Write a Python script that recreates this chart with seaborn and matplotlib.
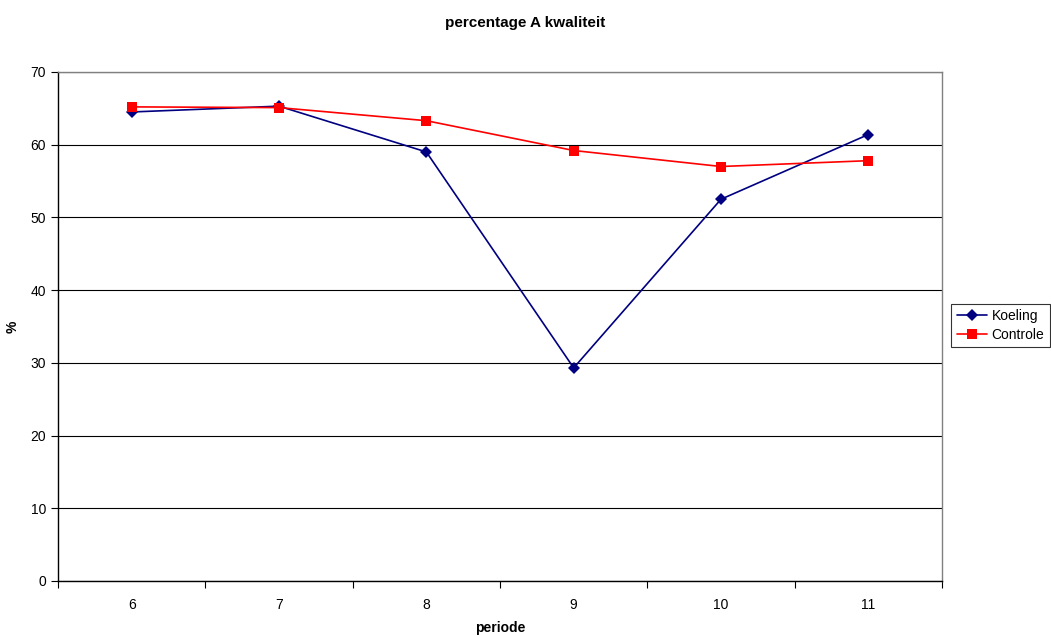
import pandas as pd
import matplotlib.pyplot as plt
import seaborn as sns
from matplotlib.ticker import FixedLocator
from matplotlib.lines import Line2D

# values
periode = [6, 7, 8, 9, 10, 11]
koeling = [64.5, 65.3, 59.0, 29.3, 52.5, 61.4]
controle = [65.2, 65.1, 63.3, 59.2, 57.0, 57.8]

df = pd.DataFrame({
    'pos': list(range(len(periode))) * 2,
    'value': koeling + controle,
    'serie': ['Koeling'] * len(periode) + ['Controle'] * len(periode),
})

sns.set_style('white')
plt.rcParams['font.family'] = ['Liberation Sans', 'DejaVu Sans']
plt.rcParams['text.color'] = 'black'
plt.rcParams['axes.labelcolor'] = 'black'
plt.rcParams['xtick.color'] = 'black'
plt.rcParams['ytick.color'] = 'black'

fig = plt.figure(figsize=(10.51, 6.37), dpi=100)
ax = fig.add_axes([0.0552, 0.088, 0.8411, 0.799])

ax.grid(axis='y', color='black', linewidth=0.8)
ax.set_axisbelow(True)

sns.lineplot(data=df, x='pos', y='value', hue='serie', style='serie',
             palette={'Koeling': '#000080', 'Controle': '#ff0000'},
             markers={'Koeling': 'D', 'Controle': 's'},
             dashes=False, markersize=7, linewidth=1.2,
             markeredgewidth=0, ax=ax, legend=False)
# diamond slightly smaller
for line in ax.lines:
    if line.get_marker() == 'D':
        line.set_markersize(6)

ax.set_xlim(-0.5, len(periode) - 0.5)
ax.set_ylim(0, 70)
ax.set_yticks(range(0, 71, 10))
ax.set_xticks(range(len(periode)))
ax.set_xticklabels([str(p) for p in periode])
ax.xaxis.set_minor_locator(FixedLocator([i - 0.5 for i in range(len(periode) + 1)]))
ax.tick_params(axis='x', which='major', length=0, pad=12, labelsize=10)
ax.tick_params(axis='x', which='minor', length=5, width=0.8, color='black', direction='out', bottom=True)
ax.tick_params(axis='y', length=5, width=0.8, color='black', direction='out', left=True, labelsize=10)

for s in ['left', 'bottom']:
    ax.spines[s].set_color('black')
    ax.spines[s].set_linewidth(1)
for s in ['top', 'right']:
    ax.spines[s].set_color('#808080')
    ax.spines[s].set_linewidth(1)

ax.set_xlabel('periode', fontsize=10, fontweight='bold', labelpad=7)
ax.set_ylabel('%', fontsize=10, fontweight='bold', labelpad=8)
fig.suptitle('percentage A kwaliteit', fontsize=11, fontweight='bold', y=0.975)

handles = [Line2D([], [], color='#000080', marker='D', markersize=6, markeredgewidth=0, linewidth=1.2),
           Line2D([], [], color='#ff0000', marker='s', markersize=7, markeredgewidth=0, linewidth=1.2)]
leg = fig.legend(handles, ['Koeling', 'Controle'], loc='center left',
                 bbox_to_anchor=(0.905, 0.489), frameon=True, fancybox=False,
                 edgecolor='black', fontsize=10, handlelength=2.2,
                 handletextpad=0.3, borderpad=0.4, labelspacing=0.35,
                 borderaxespad=0)
leg.get_frame().set_linewidth(0.8)

fig.savefig('out.png', dpi=100)
